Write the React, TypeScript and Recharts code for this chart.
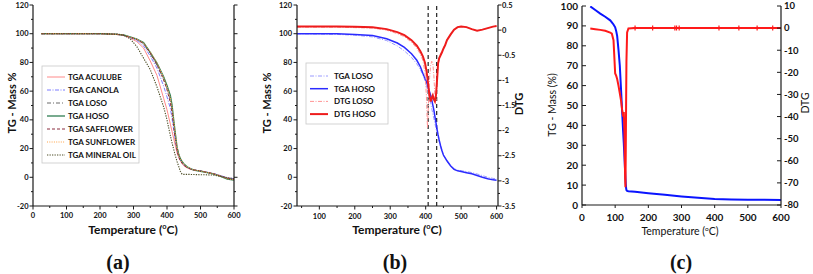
import { ComposedChart, Line, XAxis, YAxis, ReferenceLine, Scatter } from "recharts";

// ─── Panel (a) data: TGA of the oils ─────────────────────────────────────────

const T_A = [25, 100, 200, 250, 270, 290, 310, 330, 350, 370, 390, 400, 410, 415, 420, 425, 430, 435, 440, 445, 450, 460, 470, 480, 500, 520, 540, 560, 580, 600];
const A_ACULUBE = [100, 100, 100, 99.4, 98.7, 97, 94.5, 90, 81, 71, 55, 47, 37, 32, 27, 22, 17, 14, 11.5, 9.5, 8, 6.5, 5.5, 5, 4.5, 3.5, 2.5, 1, -0.5, -1.2];
const A_CANOLA = [100, 100, 100, 99.5, 98.9, 97.4, 95.3, 91.5, 84.5, 76, 63.5, 56, 48, 41, 33, 26, 19.5, 15, 12, 10, 8.5, 6.8, 5.8, 5.2, 4.5, 3.5, 2.5, 1.2, -0.3, -1];
const A_LOSO = [100, 100, 100, 99.6, 99, 97.6, 96, 93, 86, 78, 68, 62, 54, 47, 38, 29, 21, 16, 12.5, 10.5, 9, 7, 6, 5.2, 4.4, 3.4, 2.4, 0.9, -0.7, -1.5];
const A_HOSO = [100, 100, 100, 99.6, 99.1, 97.8, 96.3, 93.8, 87, 79.5, 70, 64, 57, 50.5, 40, 30.5, 21, 16, 13, 11, 9.5, 7.3, 6, 5, 4.2, 3.2, 2.2, 0.6, -1.2, -2];
const A_SAFFLOWER = [100, 100, 100, 99.6, 99, 97.6, 96, 93.2, 86.5, 78.5, 68, 61, 52, 45, 35, 26, 18.5, 14, 11.5, 9.8, 8.5, 6.8, 5.8, 5.1, 4.4, 3.4, 2.4, 0.9, -0.7, -1.5];
const A_SUNFLOWER = [100, 100, 100, 99.6, 99.1, 97.7, 96.2, 93.6, 87.5, 80, 69.5, 63, 55.5, 49, 40, 30, 21, 16, 12.8, 10.8, 9.3, 7.2, 6, 5.1, 4.3, 3.3, 2.3, 0.7, -1, -1.8];
const A_MINERAL = [100, 100, 100, 99.8, 99, 96.5, 91, 83, 75, 63, 49, 40, 29, 24, 19.5, 15, 11, 7.5, 4, 2.2, 2, 2, 2, 1.9, 1.8, 1.7, 1.5, 0.5, -0.3, -1];

const A_X_TICKS = [0, 50, 100, 150, 200, 250, 300, 350, 400, 450, 500, 550, 600];
const A_X_LABELS = [0, 100, 200, 300, 400, 500, 600];
const Y_TICKS = [-20, -10, 0, 10, 20, 30, 40, 50, 60, 70, 80, 90, 100, 110, 120];
const Y_LABELS = [-20, 0, 20, 40, 60, 80, 100, 120];

// ─── Panel (b) data: LOSO vs HOSO, TGA + DTG ─────────────────────────────────

const T_B = [37, 100, 150, 200, 250, 290, 320, 340, 360, 375, 385, 392, 398, 402, 405, 408, 411, 414, 417, 420, 423, 426, 429, 432, 435, 438, 442, 446, 450, 455, 460, 470, 480, 490, 500, 515, 530, 545, 560, 575, 590, 600];
const B_TGA_LOSO = [100, 99.8, 99.5, 99, 97.8, 95.2, 91.5, 88, 83.5, 79, 75, 71.5, 67.5, 64, 61, 58, 55, 51.5, 48, 44.5, 41, 37.5, 34, 31, 28, 25, 21.5, 18, 15.5, 13, 11, 8, 6, 5, 4.6, 4, 3.3, 2.3, 1.2, 0, -0.8, -1];
const B_TGA_HOSO = [100, 100, 99.9, 99.5, 98.7, 96.5, 93.5, 90.5, 86, 81.5, 77, 72.5, 69, 66.5, 64.5, 62, 59.5, 57, 54, 50.5, 47, 42.5, 38, 33.5, 29.5, 26, 22, 18.5, 15.5, 13.5, 11.5, 8, 5.5, 4.5, 4, 3.2, 2.4, 1.2, 0, -1, -1.8, -2];
const B_DTG_LOSO = [0.06, 0.06, 0.06, 0.05, 0.04, 0, -0.07, -0.13, -0.24, -0.36, -0.48, -0.6, -0.85, -1.3, -1.95, -1.45, -0.95, -0.7, -0.62, -0.65, -0.9, -1.3, -1.4, -1.05, -0.7, -0.55, -0.48, -0.42, -0.35, -0.28, -0.19, -0.08, 0, 0.05, 0.07, 0.06, 0.02, -0.01, 0.01, 0.04, 0.07, 0.08];
const B_DTG_HOSO = [0.07, 0.07, 0.07, 0.065, 0.055, 0.02, -0.04, -0.1, -0.2, -0.31, -0.42, -0.52, -0.65, -0.8, -0.95, -1.15, -1.32, -1.42, -1.35, -1.3, -1.38, -1.42, -1.3, -1.0, -0.66, -0.56, -0.5, -0.44, -0.37, -0.3, -0.2, -0.09, 0.01, 0.06, 0.07, 0.06, 0.02, -0.01, 0.01, 0.04, 0.07, 0.08];
const B_MARKERS = [407, 431];

const B_X_TICKS = [50, 100, 150, 200, 250, 300, 350, 400, 450, 500, 550, 600];
const B_X_LABELS = [100, 200, 300, 400, 500, 600];
const B_R_TICKS = [0.5, 0.25, 0, -0.25, -0.5, -0.75, -1, -1.25, -1.5, -1.75, -2, -2.25, -2.5, -2.75, -3, -3.25, -3.5];
const B_R_LABELS = [0.5, 0, -0.5, -1, -1.5, -2, -2.5, -3, -3.5];

// ─── Panel (c) data ──────────────────────────────────────────────────────────

const T_C = [25, 40, 55, 70, 85, 90, 95, 100, 103, 106, 110, 114, 118, 121, 124, 126, 128, 130, 131, 132, 133, 134, 136, 140, 160, 200, 250, 300, 350, 400, 450, 500, 550, 600];
const C_TG = [99.8, 98, 96.2, 94.6, 92.8, 91.8, 90.7, 89.3, 87.5, 85, 78, 70, 57, 47, 37, 31, 24, 17, 13.5, 10.5, 8.5, 7.5, 7.1, 6.9, 6.6, 5.9, 5.1, 4.3, 3.6, 3.0, 2.8, 2.7, 2.6, 2.5];
const C_DTG = [-0.2, -0.5, -0.8, -1.2, -2, -2.5, -5.5, -20.5, -21.5, -23, -26, -29.5, -33, -37, -40, -38, -47, -68, -72, -55, -34, -15, -2, -0.2, 0, 0, 0, 0, 0, 0, 0, 0, 0, 0];
const C_CROSS_T = [160, 213, 280, 285, 293, 413, 473, 528, 575];

const C_X_TICKS = [0, 100, 200, 300, 400, 500, 600];
const C_L_TICKS = [0, 10, 20, 30, 40, 50, 60, 70, 80, 90, 100];
const C_R_TICKS = [10, 0, -10, -20, -30, -40, -50, -60, -70, -80];

// ─── Styles ──────────────────────────────────────────────────────────────────

const FONT = "Lato, 'Open Sans', sans-serif";
const AX = { stroke: "#1a1a1a", strokeWidth: 1.2 };

const A_SERIES = [
  { key: "aculube", name: "TGA ACULUBE", color: "#ff8a8a", dash: undefined, w: 1 },
  { key: "canola", name: "TGA CANOLA", color: "#7c7cff", dash: "4 1.5 1 1.5", w: 1 },
  { key: "loso", name: "TGA LOSO", color: "#6b6b6b", dash: "4 2 1 2", w: 1 },
  { key: "hoso", name: "TGA HOSO", color: "#2f7d52", dash: undefined, w: 1.3 },
  { key: "safflower", name: "TGA SAFFLOWER", color: "#8a2c3e", dash: "3 2", w: 1 },
  { key: "sunflower", name: "TGA SUNFLOWER", color: "#ffa347", dash: "1 1.3", w: 1 },
  { key: "mineral", name: "TGA MINERAL OIL", color: "#4f4f28", dash: "1.3 1.2", w: 1.1 },
];

const B_SERIES = [
  { key: "tgaLoso", name: "TGA LOSO", color: "#9a9aff", dash: "4 1.5 1 1.5", w: 1, axis: "l" },
  { key: "tgaHoso", name: "TGA HOSO", color: "#2b2bff", dash: undefined, w: 1.5, axis: "l" },
  { key: "dtgLoso", name: "DTG LOSO", color: "#ff9494", dash: "4 1.5 1 1.5", w: 1, axis: "r" },
  { key: "dtgHoso", name: "DTG HOSO", color: "#ee1c1c", dash: undefined, w: 2, axis: "r" },
];

// ─── Ticks with minor marks ──────────────────────────────────────────────────

type Side = "left" | "right" | "bottom" | "top";
type TickOpts = {
  side: Side; majors: number[]; labels?: boolean;
  len?: number; minorLen?: number; inward?: boolean;
  gap?: number; size?: number; weight?: number;
};

function makeTick(o: TickOpts) {
  const out = { left: [-1, 0], right: [1, 0], bottom: [0, 1], top: [0, -1] }[o.side];
  const len = o.len ?? 3.5, minorLen = o.minorLen ?? 2, gap = o.gap ?? 5;
  const s = o.inward ? -1 : 1;
  return (p: any) => {
    const v = p.payload.value;
    const major = o.majors.includes(v);
    const L = major ? len : minorLen;
    const x = p.x, y = p.y;
    return (
      <g>
        <line x1={x} y1={y} x2={x + out[0] * L * s} y2={y + out[1] * L * s} stroke="#1a1a1a" strokeWidth={1} />
        {o.labels && major && (
          <text
            x={x + out[0] * gap}
            y={y + out[1] * gap}
            textAnchor={o.side === "left" ? "end" : o.side === "right" ? "start" : "middle"}
            dy={o.side === "bottom" ? "0.72em" : "0.35em"}
            fontFamily={FONT}
            fontSize={o.size ?? 7.5}
            fontWeight={o.weight ?? 700}
            fill="#111"
          >
            {String(v)}
          </text>
        )}
      </g>
    );
  };
}

// small red "+" marks sitting on the DTG baseline
function Plus(p: any) {
  const { cx, cy } = p;
  return (
    <path d={`M${cx - 2.5},${cy}H${cx + 2.5}M${cx},${cy - 2.5}V${cy + 2.5}`} stroke="#ff1a1a" strokeWidth={1.2} />
  );
}

const axisBase = { tickSize: 0, tickMargin: 0, tickLine: false, interval: 0 as const, allowDataOverflow: true, type: "number" as const };

// ─── Panels ──────────────────────────────────────────────────────────────────

function PanelA() {
  const rows = T_A.map((T, i) => ({
    T, aculube: A_ACULUBE[i], canola: A_CANOLA[i], loso: A_LOSO[i], hoso: A_HOSO[i],
    safflower: A_SAFFLOWER[i], sunflower: A_SUNFLOWER[i], mineral: A_MINERAL[i],
  }));
  return (
    <div style={{ position: "absolute", left: 0, top: 0 }}>
      <ComposedChart width={270} height={274} data={rows} margin={{ top: 5, right: 0, bottom: 0, left: 0 }}>
        <XAxis {...axisBase} xAxisId="b" dataKey="T" domain={[0, 600]} ticks={A_X_TICKS} height={68} axisLine={AX}
          tick={makeTick({ side: "bottom", majors: A_X_LABELS, labels: true, gap: 7 })} />
        <XAxis {...axisBase} xAxisId="t" orientation="top" domain={[0, 600]} ticks={A_X_TICKS} height={0} axisLine={AX}
          tick={makeTick({ side: "top", majors: A_X_LABELS })} />
        <YAxis {...axisBase} yAxisId="l" domain={[-20, 120]} ticks={Y_TICKS} width={33} axisLine={AX}
          tick={makeTick({ side: "left", majors: Y_LABELS, labels: true, gap: 4.5 })} />
        <YAxis {...axisBase} yAxisId="r" orientation="right" domain={[-20, 120]} ticks={Y_TICKS} width={36} axisLine={AX}
          tick={makeTick({ side: "right", majors: Y_LABELS })} />
        {A_SERIES.map((s) => (
          <Line key={s.key} xAxisId="b" yAxisId="l" dataKey={s.key} type="linear" dot={false}
            stroke={s.color} strokeWidth={s.w} strokeDasharray={s.dash} isAnimationActive={false} />
        ))}
      </ComposedChart>
    </div>
  );
}

function PanelB() {
  const rows = T_B.map((T, i) => ({
    T, tgaLoso: B_TGA_LOSO[i], tgaHoso: B_TGA_HOSO[i], dtgLoso: B_DTG_LOSO[i], dtgHoso: B_DTG_HOSO[i],
  }));
  return (
    <div style={{ position: "absolute", left: 270, top: 0 }}>
      <ComposedChart width={270} height={274} data={rows} margin={{ top: 5, right: 0, bottom: 0, left: 0 }}>
        <XAxis {...axisBase} xAxisId="b" dataKey="T" domain={[37, 604]} ticks={B_X_TICKS} height={68} axisLine={AX}
          tick={makeTick({ side: "bottom", majors: B_X_LABELS, labels: true, gap: 8 })} />
        <XAxis {...axisBase} xAxisId="t" orientation="top" domain={[37, 604]} ticks={B_X_TICKS} height={0} axisLine={AX}
          tick={makeTick({ side: "top", majors: B_X_LABELS })} />
        <YAxis {...axisBase} yAxisId="l" domain={[-20, 120]} ticks={Y_TICKS} width={27} axisLine={AX}
          tick={makeTick({ side: "left", majors: Y_LABELS, labels: true, gap: 5 })} />
        <YAxis {...axisBase} yAxisId="r" orientation="right" domain={[-3.5, 0.5]} ticks={B_R_TICKS} width={42} axisLine={AX}
          tick={makeTick({ side: "right", majors: B_R_LABELS, labels: true, gap: 4 })} />
        {B_MARKERS.map((m) => (
          <ReferenceLine key={m} xAxisId="b" yAxisId="l" x={m} stroke="#222" strokeWidth={1.2} strokeDasharray="4 3" />
        ))}
        {B_SERIES.map((s) => (
          <Line key={s.key} xAxisId="b" yAxisId={s.axis} dataKey={s.key} type="linear" dot={false}
            stroke={s.color} strokeWidth={s.w} strokeDasharray={s.dash} isAnimationActive={false} />
        ))}
      </ComposedChart>
    </div>
  );
}

function PanelC() {
  const rows = T_C.map((T, i) => ({ T, tg: C_TG[i], dtg: C_DTG[i] }));
  const crosses = C_CROSS_T.map((T) => ({ T, d: 0 }));
  return (
    <div style={{ position: "absolute", left: 540, top: 0 }}>
      <ComposedChart width={273} height={274} data={rows} margin={{ top: 6, right: 0, bottom: 0, left: 0 }}>
        <XAxis {...axisBase} xAxisId="b" dataKey="T" domain={[0, 600]} ticks={C_X_TICKS} height={69} axisLine={AX}
          tick={makeTick({ side: "bottom", majors: C_X_TICKS, labels: true, gap: 9, size: 10, len: 3 })} />
        <YAxis {...axisBase} yAxisId="l" domain={[0, 100]} ticks={C_L_TICKS} width={42} axisLine={AX}
          tick={makeTick({ side: "left", majors: C_L_TICKS, labels: true, inward: true, gap: 4, size: 10, len: 4 })} />
        <YAxis {...axisBase} yAxisId="r" orientation="right" dataKey="d" domain={[-80, 10]} ticks={C_R_TICKS} width={32} axisLine={AX}
          tick={makeTick({ side: "right", majors: C_R_TICKS, labels: true, inward: true, gap: 3, size: 9.5, len: 4 })} />
        <Line xAxisId="b" yAxisId="l" dataKey="tg" type="linear" dot={false} stroke="#0a14ff" strokeWidth={2} isAnimationActive={false} />
        <Line xAxisId="b" yAxisId="r" dataKey="dtg" type="linear" dot={false} stroke="#ff1a1a" strokeWidth={2} isAnimationActive={false} />
        <Scatter xAxisId="b" yAxisId="r" data={crosses} dataKey="d" shape={Plus} isAnimationActive={false} />
      </ComposedChart>
    </div>
  );
}

// ─── Titles / legends overlay ────────────────────────────────────────────────

function Deg({ size }: { size: number }) {
  return (
    <>
      <tspan fontSize={size * 0.62} dy={-size * 0.38}>o</tspan>
      <tspan dy={size * 0.38}>C)</tspan>
    </>
  );
}

function Overlay() {
  const bold = { fontFamily: FONT, fontWeight: 700, fill: "#111" };
  const reg = { fontFamily: FONT, fontWeight: 400, fill: "#111" };
  const serif = { fontFamily: "'Liberation Serif', 'DejaVu Serif', serif", fontWeight: 700, fill: "#111", fontSize: 20 };
  return (
    <svg width={813} height={274} style={{ position: "absolute", left: 0, top: 0, pointerEvents: "none" }}>
      {/* (a) */}
      <text {...bold} fontSize={11} textAnchor="middle" transform="translate(16,103) rotate(-90)">TG - Mass %</text>
      <text {...bold} fontSize={12} x={133} y={234} textAnchor="middle">Temperature (<Deg size={12} /></text>
      <text {...serif} x={118} y={269} textAnchor="middle">(a)</text>
      <rect x={42} y={66} width={97} height={97} fill="#fff" stroke="#c8c8c8" strokeWidth={0.8} />
      {A_SERIES.map((s, i) => (
        <g key={s.key}>
          <line x1={47} x2={65} y1={77 + i * 13} y2={77 + i * 13} stroke={s.color} strokeWidth={s.w} strokeDasharray={s.dash} />
          <text {...bold} fontSize={8} x={68} y={77 + i * 13} dy="0.35em">{s.name}</text>
        </g>
      ))}

      {/* (b) */}
      <text {...bold} fontSize={11} textAnchor="middle" transform="translate(271,103) rotate(-90)">TG - Mass %</text>
      <text {...bold} fontSize={11} textAnchor="middle" transform="translate(523,104) rotate(-90)">DTG</text>
      <text {...bold} fontSize={12} x={397} y={234} textAnchor="middle">Temperature (<Deg size={12} /></text>
      <text {...serif} x={395} y={269} textAnchor="middle">(b)</text>
      <rect x={306} y={63} width={82} height={61} fill="#fff" stroke="#c8c8c8" strokeWidth={0.8} />
      {B_SERIES.map((s, i) => (
        <g key={s.key}>
          <line x1={310} x2={328} y1={76 + i * 12.7} y2={76 + i * 12.7} stroke={s.color} strokeWidth={s.w} strokeDasharray={s.dash} />
          <text {...bold} fontSize={8} x={334} y={76 + i * 12.7} dy="0.35em">{s.name}</text>
        </g>
      ))}

      {/* (c) */}
      <text {...reg} fontSize={10.5} textAnchor="middle" transform="translate(556,105) rotate(-90)">TG - Mass (%)</text>
      <text {...reg} fontSize={10.5} textAnchor="middle" transform="translate(809,103) rotate(-90)">DTG</text>
      <text {...reg} fontSize={10.5} x={680} y={235} textAnchor="middle">Temperature (<Deg size={10.5} /></text>
      <text {...serif} x={681} y={269} textAnchor="middle">(c)</text>
    </svg>
  );
}

export default function App() {
  return (
    <div style={{ position: "absolute", left: 0, top: 0, width: 813, height: 274, background: "#fff" }}>
      <PanelA />
      <PanelB />
      <PanelC />
      <Overlay />
    </div>
  );
}
